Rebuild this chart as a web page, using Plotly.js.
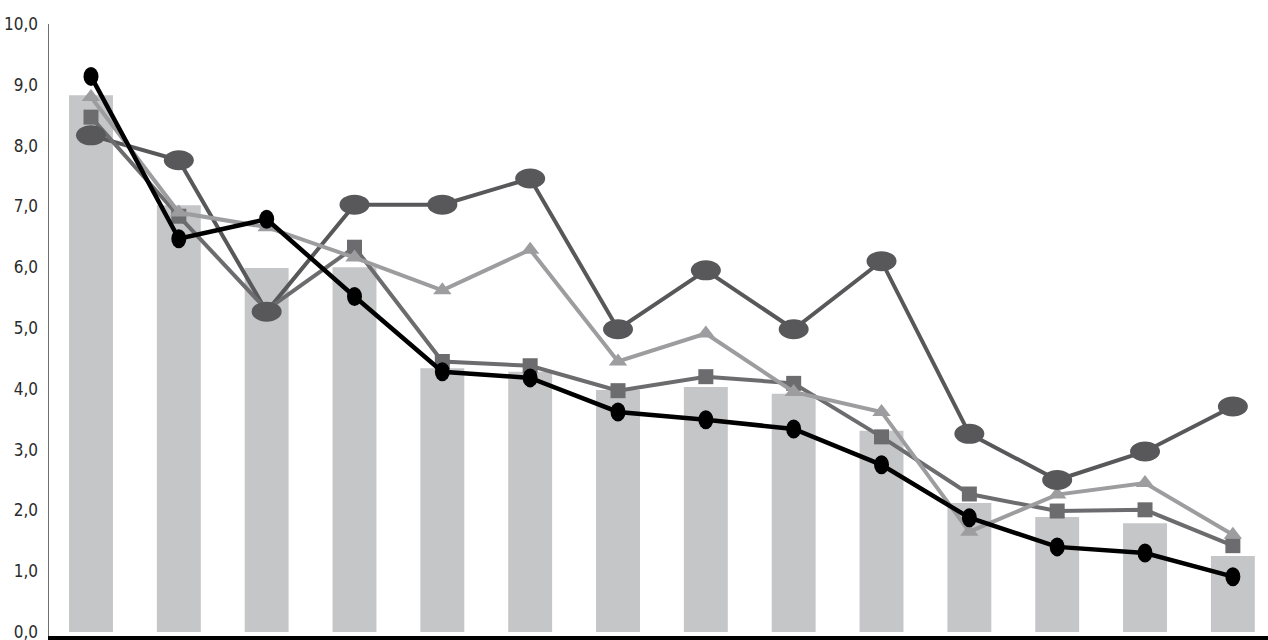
<!DOCTYPE html>
<html>
<head>
<meta charset="utf-8">
<script src="https://cdn.plot.ly/plotly-3.0.1.min.js"></script>
<style>html,body{margin:0;padding:0;background:#fff;}#chart{width:1268px;height:640px;}</style>
</head>
<body>
<div id="chart"></div>
<script>
// Data
const categories = [0,1,2,3,4,5,6,7,8,9,10,11,12,13];
const barValues      = [8.83, 7.02, 5.99, 6.00, 4.34, 4.28, 3.98, 4.03, 3.92, 3.31, 2.12, 1.89, 1.79, 1.25];
const ellipseSeries  = [8.17, 7.76, 5.27, 7.03, 7.03, 7.46, 4.98, 5.95, 4.98, 6.10, 3.26, 2.50, 2.97, 3.71];
const squareSeries   = [8.47, 6.84, 5.30, 6.33, 4.45, 4.38, 3.97, 4.20, 4.09, 3.21, 2.27, 1.99, 2.01, 1.42];
const triangleSeries = [8.80, 6.90, 6.66, 6.16, 5.62, 6.29, 4.45, 4.91, 3.95, 3.62, 1.65, 2.26, 2.45, 1.60];
const blackSeries    = [9.14, 6.47, 6.79, 5.52, 4.28, 4.18, 3.62, 3.49, 3.34, 2.75, 1.88, 1.40, 1.30, 0.91];
const yTicks = [0,1,2,3,4,5,6,7,8,9,10];

const traces = [
  {type:'bar', x:categories, y:barValues, width:0.5, marker:{color:'#c5c6c8'}, hoverinfo:'skip'},
  {type:'scatter', mode:'lines', x:categories, y:ellipseSeries, line:{color:'#58585a', width:4}},
  {type:'scatter', mode:'lines+markers', x:categories, y:squareSeries, line:{color:'#6c6c6e', width:4},
   marker:{symbol:'square', size:15, color:'#6c6c6e'}},
  {type:'scatter', mode:'lines+markers', x:categories, y:triangleSeries, line:{color:'#9d9d9f', width:4},
   marker:{symbol:'triangle-up', size:16, color:'#9d9d9f'}},
  {type:'scatter', mode:'lines', x:categories, y:blackSeries, line:{color:'#000000', width:4.5}}
];

// Elliptical markers anchored on the data points (pixel-sized)
const shapes = [];
function addEllipses(vals, w, h, color){
  vals.forEach((v,i)=>{
    shapes.push({type:'circle', xref:'x', yref:'y', xsizemode:'pixel', ysizemode:'pixel',
      xanchor:categories[i], yanchor:v, x0:-w/2, x1:w/2, y0:-h/2, y1:h/2,
      fillcolor:color, line:{width:0}, layer:'above'});
  });
}
addEllipses(ellipseSeries, 30, 20, '#58585a');
addEllipses(blackSeries, 15, 19, '#000000');

const layout = {
  width:1268, height:640,
  margin:{l:49, r:0, t:24, b:4, pad:0},
  paper_bgcolor:'#ffffff', plot_bgcolor:'#ffffff',
  showlegend:false,
  separators:', ',
  bargap:0.5,
  xaxis:{type:'linear', range:[-0.478, 13.40], showticklabels:false, showgrid:false, zeroline:false,
         ticks:'', showline:true, linecolor:'#000000', linewidth:8},
  yaxis:{range:[-0.066, 10.002], tickvals:yTicks, tickformat:'.1f', showgrid:false, zeroline:false,
         ticks:'', showline:true, linecolor:'#707070', linewidth:1.5, ticklabelstandoff:6,
         ticklabeloverflow:'allow',
         tickfont:{family:'"DejaVu Sans Condensed", "Liberation Sans Narrow", sans-serif', size:17, color:'#2a2a2a'}},
  shapes:shapes
};

Plotly.newPlot('chart', traces, layout, {staticPlot:true, displayModeBar:false});
</script>
</body>
</html>
